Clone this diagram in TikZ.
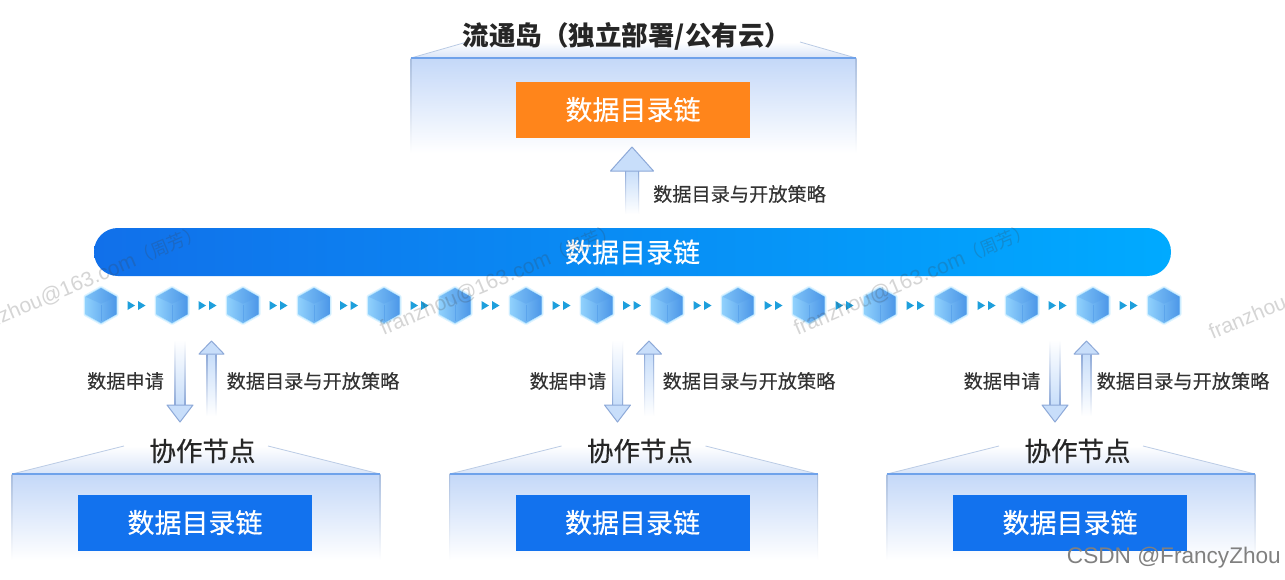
\documentclass[tikz,border=0pt]{standalone}
\usepackage{fontspec}
\setmainfont{Noto Sans CJK SC}
\newfontfamily\latinfont{Liberation Sans}
\newfontfamily\mediumfont[FakeBold=0.5]{Noto Sans CJK SC}
\newfontfamily\labelfont[FakeBold=0.2]{Noto Sans CJK SC}
\usetikzlibrary{calc}

\definecolor{barblue}{HTML}{1170EA}
\definecolor{barmid}{HTML}{0E78F2}
\definecolor{barcyan}{HTML}{00AAFF}
\definecolor{boxblue}{HTML}{1272EE}
\definecolor{boxorange}{HTML}{FF851B}
\definecolor{hallblue}{HTML}{C4D8F8}
\definecolor{roofblue}{HTML}{D8E4F8}
\definecolor{edgeblue}{HTML}{6FA2EA}
\definecolor{sideblue}{HTML}{A9BEDF}
\definecolor{arrowfill}{HTML}{C8DEFA}
\definecolor{arrowline}{HTML}{8DA9D8}
\definecolor{tipblue}{HTML}{1E9FDC}
\definecolor{cubelight}{HTML}{8FD0FC}
\definecolor{cubedark}{HTML}{4C97E8}
\definecolor{cubeglow}{HTML}{9FDCFF}
\definecolor{markgray}{HTML}{404040}

\tikzstyle{every node}+=[inner sep=0pt]
\tikzset{
  chainbox/.style={minimum width=234,minimum height=56,text=white,font=\fontsize{27}{27}\mediumfont},
  titletext/.style={text=black!85,font=\fontsize{26.5}{27}\selectfont\bfseries},
  nodetext/.style={text=black!85,font=\fontsize{26.5}{27}\mediumfont},
  smalltext/.style={text=black!80,font=\fontsize{19.2}{19}\labelfont},
  marktext/.style={text=markgray,rotate=23,opacity=.22,anchor=west,font=\fontsize{21}{21}\latinfont},
  arrowup/.style={bottom color=white,top color=#1},
  arrowdown/.style={top color=white,bottom color=#1}
}

% style, tail, tip, half shaft, half head, signed head length
\newcommand{\blockarrow}[6]{
  \shade[#1=arrowfill] ($(#2)+(-#4,0)$) rectangle ($(#3)+(#4,#6)$);
  \shade[#1=arrowline] ($(#2)+(-#4,0)$) rectangle ($(#3)+(-#4+1,#6)$);
  \shade[#1=arrowline] ($(#2)+(#4-1,0)$) rectangle ($(#3)+(#4,#6)$);
  \draw [arrowline,fill=arrowfill,line width=1pt,line join=round] (#3) -- ($(#3)+(#5,#6)$) -- ($(#3)+(#4,#6)$) -- ($(#3)+(-#4,#6)$) -- ($(#3)+(-#5,#6)$) -- cycle;
}

% x of left edge, x of right edge, y of eave, y of roof top, y of fade end, run of roof
\newcommand{\hall}[6]{
  \shade [bottom color=roofblue,top color=white] (#1,#3) -- (#1+#6,#4) -- (#2-#6,#4) -- (#2,#3) -- cycle;
  \shade [top color=hallblue,bottom color=white] (#1,#3) rectangle (#2,#5);
  \draw [sideblue!80,line width=.8pt] (#1,#3) -- (#1+#6,#4);
  \draw [sideblue!80,line width=.8pt] (#2,#3) -- (#2-#6,#4);
  \shade [top color=sideblue,bottom color=white] (#1-.5,#3) rectangle (#1+.5,#5);
  \shade [top color=sideblue,bottom color=white] (#2-.5,#3) rectangle (#2+.5,#5);
  \draw [edgeblue,line width=1.2pt] (#1,#3) -- (#2,#3);
}

\begin{document}
\begin{tikzpicture}[x=1pt,y=1pt]
\useasboundingbox (0,0) rectangle (1285,-579);
\fill [white] (0,0) rectangle (1285,-579);

\hall{411}{856}{-58}{-42}{-153}{56}
\node [titletext] (island) at (627,-36) {流通岛（独立部署/公有云）};
\node [chainbox,fill=boxorange] (islandchain) at (633,-109.5) {\raisebox{2pt}{数据目录链}};

\node [minimum width=1077,minimum height=48,rounded corners=23.9,left color=barblue,middle color=barmid,right color=barcyan,text=white,font=\fontsize{27}{27}\mediumfont] (mainchain) at (632.5,-252) {\raisebox{1pt}{数据目录链}};

\coordinate (uptail) at (632,-214);
\coordinate (uptip) at (632,-147);
\blockarrow{arrowup}{uptail}{uptip}{7}{21.5}{-24}
\node [smalltext] (uplabel) at (739.5,-194) {数据目录与开放策略};

\foreach \n/\cx in {a/101,b/172,c/243,d/314,e/384,f/455,g/526,h/597,i/667,j/738,k/809,l/880,m/951,n/1022,o/1093,p/1164}{
  \coordinate (cube\n) at (\cx,-305.5);
  \draw [cubeglow!35,line width=4pt,line join=round] ($(cube\n)+(0,17.5)$) -- ++(15.5,-8.75) -- ++(0,-17.5) -- ++(-15.5,-8.75) -- ++(-15.5,8.75) -- ++(0,17.5) -- cycle;
  \draw [cubeglow!80,line width=1.6pt,line join=round] ($(cube\n)+(0,17.5)$) -- ++(15.5,-8.75) -- ++(0,-17.5) -- ++(-15.5,-8.75) -- ++(-15.5,8.75) -- ++(0,17.5) -- cycle;
  \shade [left color=cubelight,right color=cubedark] ($(cube\n)+(0,17.5)$) -- ++(15.5,-8.75) -- ++(0,-17.5) -- ++(-15.5,-8.75) -- ++(-15.5,8.75) -- ++(0,17.5) -- cycle;
  \fill [cubedark,opacity=.25] ($(cube\n)+(0,17.5)$) -- ++(15.5,-8.75) -- ++(-15.5,-7) -- ++(-15.5,7) -- cycle;
  \draw [cubedark,opacity=.5,line width=.8pt] ($(cube\n)+(0,1)$) -- ++(0,-16);
}
\foreach \from/\to in {a/b,b/c,c/d,d/e,e/f,f/g,g/h,h/i,i/j,j/k,k/l,l/m,m/n,n/o,o/p}{
  \coordinate (gap) at ($(cube\from)!.5!(cube\to)$);
  \fill [tipblue] ($(gap)+(-9,4.5)$) -- ++(7.5,-4.5) -- ++(-7.5,-4.5) -- cycle;
  \fill [tipblue] ($(gap)+(1.5,4.5)$) -- ++(7.5,-4.5) -- ++(-7.5,-4.5) -- cycle;
}

\foreach \n/\off in {a/0,b/437.5,c/875}{
  \begin{scope}[xshift=\off]
  \hall{12}{380}{-474}{-446}{-560}{112}
  \node [nodetext] (node\n) at (202.5,-451) {协作节点};
  \node [chainbox,fill=boxblue] (nodechain\n) at (195,-522.5) {\raisebox{2pt}{数据目录链}};
  \coordinate (downtail\n) at (180,-340);
  \coordinate (downtip\n) at (180,-422);
  \blockarrow{arrowdown}{downtail\n}{downtip\n}{5.5}{13}{17}
  \coordinate (backtail\n) at (211.5,-416);
  \coordinate (backtip\n) at (211.5,-341);
  \blockarrow{arrowup}{backtail\n}{backtip\n}{5}{12.5}{-13}
  \end{scope}
}
\node [smalltext] (aska) at (125.5,-381) {数据申请};
\node [smalltext] (askb) at (568,-381) {数据申请};
\node [smalltext] (askc) at (1002,-381) {数据申请};
\node [smalltext] (policya) at (313,-381) {数据目录与开放策略};
\node [smalltext] (policyb) at (749,-381) {数据目录与开放策略};
\node [smalltext] (policyc) at (1183,-381) {数据目录与开放策略};

\node [marktext] (marka) at (-34,-332) {franzhou@163.com{\fontsize{18}{18}\rmfamily（周芳）}};
\node [marktext] (markb) at (381,-330) {franzhou@163.com{\fontsize{18}{18}\rmfamily（周芳）}};
\node [marktext] (markc) at (795,-330) {franzhou@163.com{\fontsize{18}{18}\rmfamily（周芳）}};
\node [marktext] (markd) at (1210,-334) {franzhou@163.com{\fontsize{18}{18}\rmfamily（周芳）}};

\node [text=black!50,font=\fontsize{22.6}{23}\latinfont,anchor=east] (credit) at (1281,-558) {CSDN @FrancyZhou};
\end{tikzpicture}
\end{document}
